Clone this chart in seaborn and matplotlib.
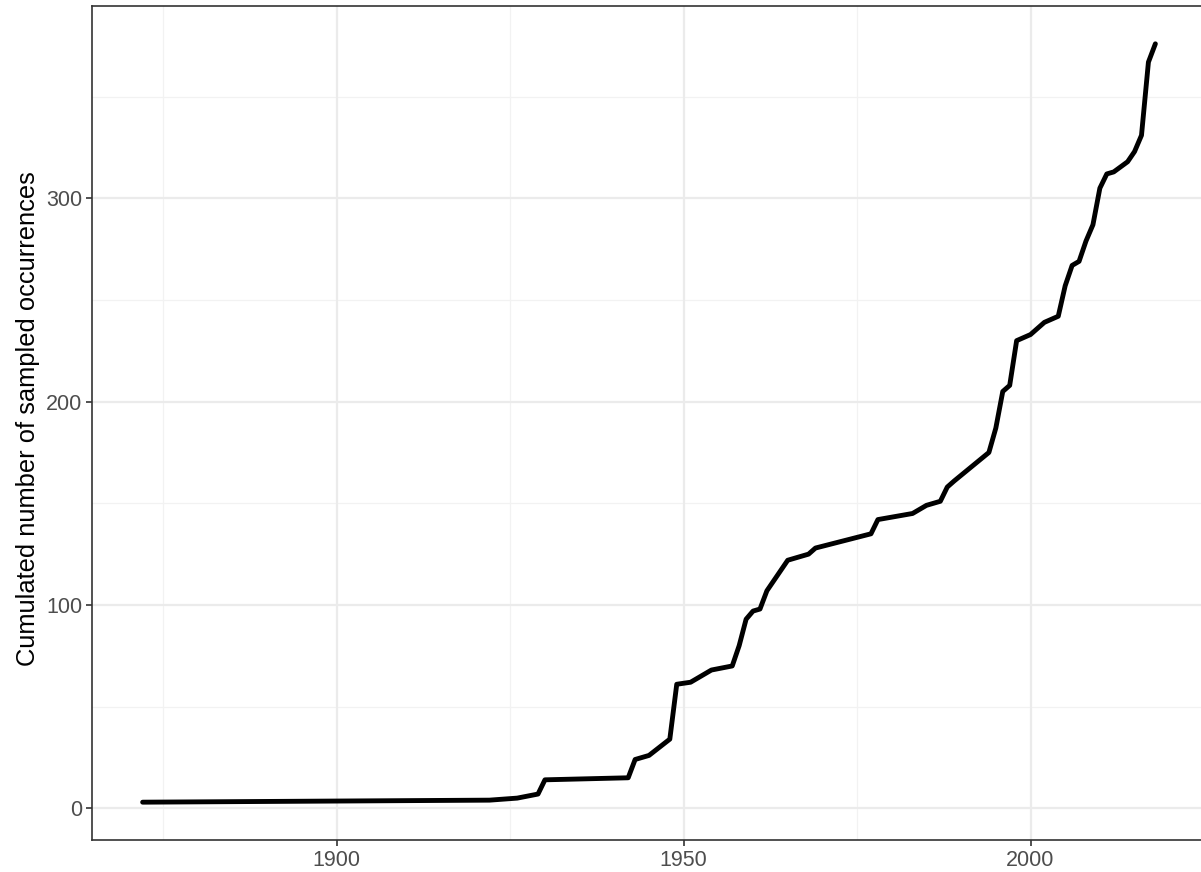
import matplotlib
matplotlib.use("Agg")
import matplotlib.pyplot as plt
import pandas as pd
import seaborn as sns

# cumulative sampled occurrences per year
years = [1872, 1922, 1926, 1929, 1930, 1942, 1943, 1945, 1948, 1949,
         1951, 1954, 1957, 1958, 1959, 1960, 1961, 1962, 1963, 1965,
         1968, 1969, 1977, 1978, 1983, 1985, 1987, 1988, 1989, 1994,
         1995, 1996, 1997, 1998, 2000, 2001, 2002, 2004, 2005, 2006,
         2007, 2008, 2009, 2010, 2011, 2012, 2014, 2015, 2016, 2017, 2018]
cumulated = [3, 4, 5, 7, 14, 15, 24, 26, 34, 61,
             62, 68, 70, 80, 93, 97, 98, 107, 112, 122,
             125, 128, 135, 142, 145, 149, 151, 158, 161, 175,
             187, 205, 208, 230, 233, 236, 239, 242, 257, 267,
             269, 279, 287, 305, 312, 313, 318, 323, 331, 367, 376]
x_ticks = [1900, 1950, 2000]
y_ticks = [0, 100, 200, 300]

df = pd.DataFrame({'year': years, 'n': cumulated})

sns.set_style('white')
plt.rcParams['font.family'] = ['Liberation Sans', 'DejaVu Sans']

fig = plt.figure(figsize=(12.01, 8.72), dpi=100)
ax = fig.add_axes([92 / 1201, 32 / 872, (1206 - 92) / 1201, (840 - 6) / 872])

# ggplot-like grid (theme_bw)
for v in [1875, 1925, 1975, 2025]:
    ax.axvline(v, color='#F2F2F2', lw=0.9, zorder=0)
for v in [50, 150, 250, 350]:
    ax.axhline(v, color='#F2F2F2', lw=0.9, zorder=0)
for v in x_ticks:
    ax.axvline(v, color='#EBEBEB', lw=1.6, zorder=0)
for v in y_ticks:
    ax.axhline(v, color='#EBEBEB', lw=1.6, zorder=0)

sns.lineplot(data=df, x='year', y='n', color='black', linewidth=3.5, ax=ax, zorder=3)

ax.set_xlim(1864.7, 2025.3)
ax.set_ylim(-15.6, 394.6)
ax.set_xticks(x_ticks)
ax.set_yticks(y_ticks)
ax.set_xlabel('')
ax.set_ylabel('Cumulated number of sampled occurrences', fontsize=18.4, color='black')
ax.yaxis.set_label_coords(-0.047, 0.505)
ax.tick_params(axis='both', which='major', length=4, width=1.2, color='#333333',
               labelcolor='#4D4D4D', labelsize=15.5, direction='out', pad=3)
ax.tick_params(left=True, bottom=True)
for s in ax.spines.values():
    s.set_color('#333333')
    s.set_linewidth(1.2)

fig.savefig('out.png', dpi=100)
